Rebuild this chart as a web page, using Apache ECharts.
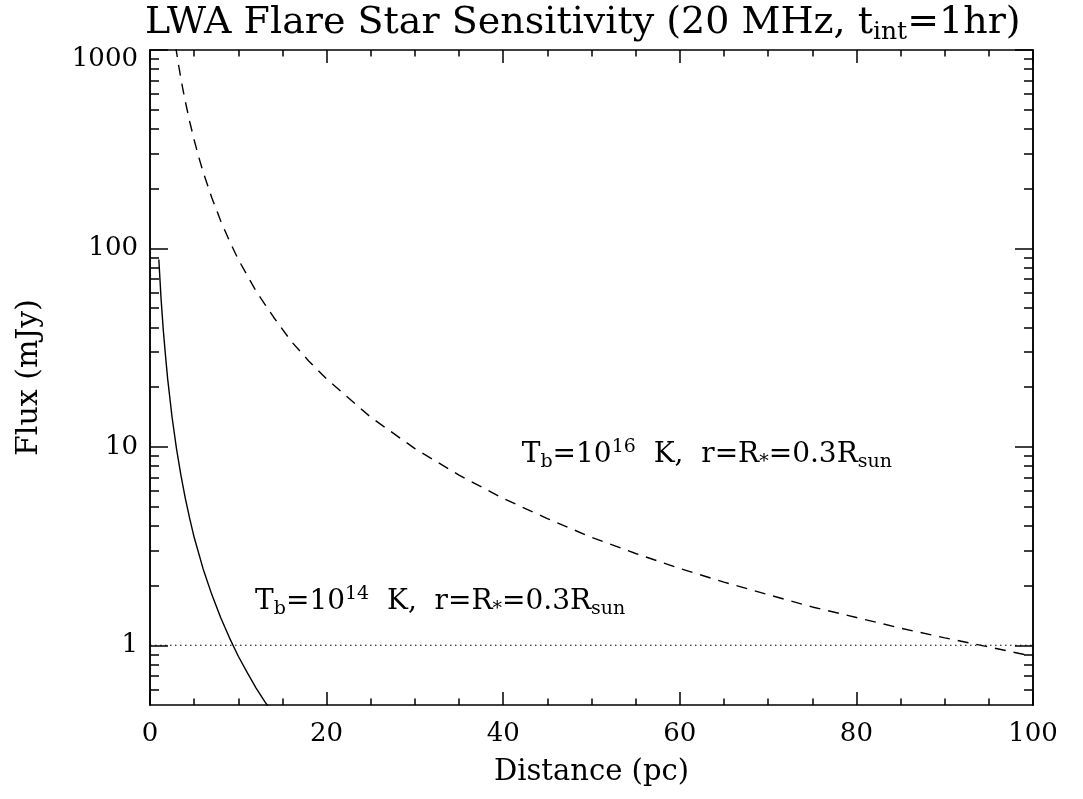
<!DOCTYPE html>
<html><head><meta charset="utf-8">
<script src="https://cdn.jsdelivr.net/npm/echarts@6/dist/echarts.min.js"></script>
<style>html,body{margin:0;padding:0;background:#fff}#c{width:1083px;height:799px}</style>
</head><body><div id="c"></div>
<script>
// ---- data ----
const distSolid  = [1, 1.25, 1.5, 1.75, 2, 2.5, 3, 3.5, 4, 4.5, 5, 6, 7, 8, 9, 10, 11, 12, 13, 14];
const fluxSolid  = [88, 56, 39, 29, 22, 14.1, 9.8, 7.2, 5.5, 4.35, 3.5, 2.44, 1.8, 1.38, 1.09, 0.88, 0.73, 0.61, 0.52, 0.45];
const distDashed = [2.9, 3, 3.25, 3.5, 3.75, 4, 4.5, 5, 5.5, 6, 7, 8, 9, 10, 12, 14, 16, 18, 20, 25, 30, 35, 40, 45, 50, 55, 60, 65, 70, 75, 80, 85, 90, 95, 100];
const fluxDashed = [1046, 978, 833, 718, 626, 550, 435, 352, 291, 244, 180, 138, 109, 88, 61, 45, 34, 27, 22, 14.1, 9.8, 7.2, 5.5, 4.35, 3.5, 2.9, 2.44, 2.08, 1.8, 1.56, 1.38, 1.22, 1.09, 0.98, 0.88];
const limitDist  = [0, 100];
const limitFlux  = [1, 1];
const xRange = [0, 100];
const yRange = [0.5, 1000];
const yMajorTicks = [1, 10, 100, 1000];
const yMinorTicks = [0.6, 0.7, 0.8, 0.9, 2, 3, 4, 5, 6, 7, 8, 9, 20, 30, 40, 50, 60, 70, 80, 90, 200, 300, 400, 500, 600, 700, 800, 900];
const titleParts = ['LWA Flare Star Sensitivity (20 MHz, t', 'int', '=1hr)'];
const xName = 'Distance (pc)';
const yName = 'Flux (mJy)';
const labelHigh = {pos: [42.1, 9.1], parts: ['T', 'b', '=10', '16', '  K,  r=R', '*', '=0.3R', 'sun']};
const labelLow  = {pos: [11.9, 1.65], parts: ['T', 'b', '=10', '14', '  K,  r=R', '*', '=0.3R', 'sun']};

const FONT = 'DejaVu Serif';
const BLACK = '#000';
const zip = (a, b) => a.map((v, i) => [v, b[i]]);

function annotRich(p) {
  return `{m|${p[0]}}{sub|${p[1]}}{m|${p[2]}}{sup|${p[3]}}{m|${p[4]}}{sub|${p[5]}}{m|${p[6]}}{sub|${p[7]}}`;
}
const annotRichStyles = {
  m:   {fontFamily: FONT, fontSize: 28, fontWeight: 'normal', color: BLACK},
  sub: {fontFamily: FONT, fontSize: 19, fontWeight: 'normal', color: BLACK, padding: [14, 0, 0, 0]},
  sup: {fontFamily: FONT, fontSize: 19, fontWeight: 'normal', color: BLACK, padding: [0, 0, 16, 0]}
};

const axisLineStyle = {color: BLACK, width: 1.5};
function xAxisDef(pos, showLabel) {
  return {
    type: 'value', position: pos, min: xRange[0], max: xRange[1], interval: 20,
    axisLine: {show: true, onZero: false, lineStyle: axisLineStyle},
    axisTick: {show: true, inside: true, length: 13, lineStyle: axisLineStyle},
    minorTick: {show: true, splitNumber: 4, length: 6.5, lineStyle: axisLineStyle},
    splitLine: {show: false}, minorSplitLine: {show: false},
    axisLabel: {show: showLabel, fontFamily: FONT, fontSize: 26, color: BLACK, margin: 16},
    name: showLabel ? xName : '', nameLocation: 'middle', nameGap: 53,
    nameTextStyle: {fontFamily: FONT, fontSize: 29, color: BLACK}
  };
}
function yAxisDef(pos, major, showLabel) {
  return {
    type: 'log', logBase: 10, position: pos, min: yRange[0], max: yRange[1],
    axisLine: {show: true, onZero: false, lineStyle: axisLineStyle},
    axisTick: {show: true, inside: true, length: major ? 18 : 9, lineStyle: axisLineStyle,
               customValues: major ? yMajorTicks : yMinorTicks},
    minorTick: {show: false},
    splitLine: {show: false},
    axisLabel: {show: showLabel, customValues: yMajorTicks, fontFamily: FONT, fontSize: 26, color: BLACK, margin: 12,
      formatter: v => (v >= 1000 ? '{a|' + v + '}' : String(v)),
      rich: {a: {fontFamily: FONT, fontSize: 26, color: BLACK, padding: [19, 0, 0, 0]}}},
    name: showLabel ? yName : '', nameLocation: 'middle', nameGap: 106, nameRotate: 90,
    nameTextStyle: {fontFamily: FONT, fontSize: 30, color: BLACK}
  };
}

const chart = echarts.init(document.getElementById('c'), null, {renderer: 'canvas'});
chart.setOption({
  animation: false,
  backgroundColor: '#fff',
  title: {
    text: `{t|${titleParts[0]}}{s|${titleParts[1]}}{t|${titleParts[2]}}`,
    left: 140, top: -3,
    textStyle: {fontWeight: 'normal', rich: {
      t: {fontFamily: FONT, fontSize: 38, fontWeight: 'normal', color: BLACK},
      s: {fontFamily: FONT, fontSize: 25, fontWeight: 'normal', color: BLACK, padding: [18, 0, 0, 0]}
    }}
  },
  grid: {left: 150, right: 50, top: 50, bottom: 94, containLabel: false, outerBoundsMode: 'none'},
  xAxis: [xAxisDef('bottom', true), xAxisDef('top', false)],
  yAxis: [yAxisDef('left', true, true), yAxisDef('left', false, false), yAxisDef('right', true, false), yAxisDef('right', false, false)],
  series: [
    {type: 'line', xAxisIndex: 0, yAxisIndex: 0, data: zip(distSolid, fluxSolid), symbol: 'none',
     lineStyle: {color: BLACK, width: 1.4, type: 'solid'}, clip: true},
    {type: 'line', xAxisIndex: 0, yAxisIndex: 0, data: zip(distDashed, fluxDashed), symbol: 'none',
     lineStyle: {color: BLACK, width: 1.4, type: [11, 8]}, clip: true},
    {type: 'line', xAxisIndex: 0, yAxisIndex: 0, data: zip(limitDist, limitFlux), symbol: 'none',
     lineStyle: {color: BLACK, width: 1.2, type: [1.5, 3.5]}, clip: true,
     markPoint: {symbol: 'circle', symbolSize: 0, silent: true,
       label: {show: true, position: 'right', distance: 0, rich: annotRichStyles},
       data: [
         {coord: labelHigh.pos, label: {formatter: annotRich(labelHigh.parts)}},
         {coord: labelLow.pos,  label: {formatter: annotRich(labelLow.parts)}}
       ]}}
  ]
});
</script></body></html>
